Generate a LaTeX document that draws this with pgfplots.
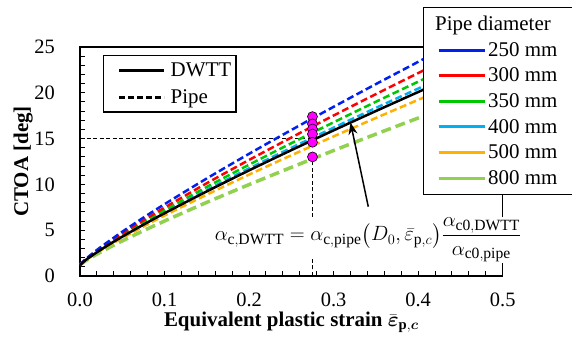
\documentclass[border=0pt]{standalone}
\usepackage{amsmath}
\usepackage{fontspec}
\setmainfont{Liberation Serif}
\usepackage{pgfplots}
\pgfplotsset{compat=1.18}
\usetikzlibrary{arrows.meta}
\definecolor{cblue}{RGB}{0,32,240}
\definecolor{cred}{RGB}{255,0,0}
\definecolor{cgreen}{RGB}{0,200,0}
\definecolor{ccyan}{RGB}{0,176,240}
\definecolor{corange}{RGB}{255,176,0}
\definecolor{clgreen}{RGB}{146,208,80}
\definecolor{cmag}{RGB}{255,0,255}
\begin{document}
\begin{tikzpicture}
\begin{axis}[
 at={(80bp,62bp)}, anchor=south west,
 scale only axis, width=422.7bp, height=229bp,
 xmin=0, xmax=0.5, ymin=0, ymax=25, clip=false,
 xtick={0,0.1,0.2,0.3,0.4,0.5}, ytick={0,5,10,15,20,25},
 minor x tick num=4, minor y tick num=4,
 tick align=inside, tick pos=left,
 major tick length=5bp, minor tick length=5bp,
 every tick/.style={black, line width=1bp},
 axis line style={line width=1.5bp},
 /pgf/number format/assume math mode=true,
 xticklabel style={/pgf/number format/fixed, /pgf/number format/fixed zerofill, /pgf/number format/precision=1},
 tick label style={font=\fontsize{20.5}{22}\selectfont},
 xticklabel style={anchor=north, inner sep=0pt, yshift=-17bp},
 yticklabel style={anchor=east, inner sep=0pt, xshift=-25bp},
 xlabel={Equivalent plastic strain $\bar{\boldsymbol{\varepsilon}}_{\mathbf{p},\boldsymbol{c}}$},
 ylabel={CTOA [deg]},
 label style={font=\fontsize{21}{24}\selectfont\bfseries},
 xlabel style={at={(axis description cs:0.5,-0.2214)}, anchor=base},
 ylabel style={at={(axis description cs:-0.123,0.5)}, anchor=base},
 legend style={at={(axis cs:0.0273,24.13)}, anchor=north west, draw=black, line width=1.2bp, fill=white,
   font=\fontsize{21}{24}\selectfont, inner xsep=14bp, inner ysep=5bp, row sep=8bp, column sep=3bp},
 legend cell align=left,
 legend image code/.code={\draw[#1, line width=3bp] (0bp,0bp) -- (45bp,0bp);},
]
\addlegendimage{black}\addlegendentry{DWTT\hspace*{-11bp}}
\addlegendimage{black, dash pattern=on 6bp off 3bp}\addlegendentry{Pipe}
% guide lines
\addplot[black, line width=1bp, dash pattern=on 4bp off 2.5bp, forget plot] coordinates {(0,15) (0.275,15)};
\addplot[black, line width=1bp, dash pattern=on 4bp off 2.5bp, forget plot] coordinates {(0.275,0) (0.275,12.9)};
% pipe curves
\addplot[clgreen, line width=3.5bp, dash pattern=on 10bp off 5bp, smooth, forget plot] coordinates {
(0,1.2) (0.005,1.55) (0.01,1.85) (0.02,2.38) (0.035,3.13) (0.05,3.83) (0.075,4.94) (0.1,6.00) (0.15,8.04) (0.2,9.98) (0.25,11.86) (0.3,13.70) (0.35,15.49) (0.405,17.42) (0.42,17.95)};
\addplot[corange, line width=2.5bp, dash pattern=on 7bp off 3.5bp, smooth, forget plot] coordinates {
(0,1.2) (0.005,1.60) (0.01,1.93) (0.02,2.53) (0.035,3.37) (0.05,4.15) (0.075,5.40) (0.1,6.60) (0.15,8.88) (0.2,11.07) (0.25,13.18) (0.3,15.24) (0.35,17.25) (0.405,19.43) (0.42,20.01)};
\addplot[ccyan, line width=2.5bp, dash pattern=on 7bp off 3.5bp, smooth, forget plot] coordinates {
(0,1.2) (0.005,1.63) (0.01,1.98) (0.02,2.62) (0.035,3.51) (0.05,4.35) (0.075,5.69) (0.1,6.97) (0.15,9.40) (0.2,11.74) (0.25,13.99) (0.3,16.19) (0.35,18.35) (0.405,20.67) (0.42,21.29)};
\addplot[cgreen, line width=2.5bp, dash pattern=on 7bp off 3.5bp, smooth, forget plot] coordinates {
(0,1.2) (0.005,1.64) (0.01,2.01) (0.02,2.68) (0.035,3.60) (0.05,4.48) (0.075,5.86) (0.1,7.19) (0.15,9.73) (0.2,12.15) (0.25,14.50) (0.3,16.78) (0.35,19.02) (0.405,21.43) (0.42,22.08)};
\addplot[cred, line width=2.5bp, dash pattern=on 7bp off 3.5bp, smooth, forget plot] coordinates {
(0,1.2) (0.005,1.66) (0.01,2.05) (0.02,2.75) (0.035,3.72) (0.05,4.63) (0.075,6.08) (0.1,7.47) (0.15,10.13) (0.2,12.67) (0.25,15.12) (0.3,17.52) (0.35,19.86) (0.405,22.38) (0.42,23.07)};
\addplot[cblue, line width=2.5bp, dash pattern=on 7bp off 3.5bp, smooth, forget plot] coordinates {
(0,1.2) (0.005,1.69) (0.01,2.10) (0.02,2.84) (0.035,3.86) (0.05,4.83) (0.075,6.37) (0.1,7.84) (0.15,10.65) (0.2,13.34) (0.25,15.94) (0.3,18.47) (0.35,20.95) (0.405,23.62) (0.42,24.35)};
% DWTT
\addplot[black, line width=2.5bp, smooth, forget plot] coordinates {
(0,1.2) (0.005,1.62) (0.01,1.96) (0.02,2.59) (0.035,3.47) (0.05,4.29) (0.075,5.60) (0.1,6.85) (0.15,9.24) (0.2,11.53) (0.25,13.74) (0.3,15.90) (0.35,18.01) (0.405,20.29) (0.42,20.90)};
% equation
\node[fill=white, inner sep=1bp, font=\fontsize{22.4}{25}\selectfont] at (axis cs:0.3406,3.95)
 {$\displaystyle \alpha_{\mathrm{c,DWTT}} = \alpha_{\mathrm{c,pipe}}\bigl(D_0,\bar{\varepsilon}_{\mathrm{p},c}\bigr)\frac{\alpha_{\mathrm{c0,DWTT}}}{\alpha_{\mathrm{c0,pipe}}}$};
\addplot[black, line width=1bp, dash pattern=on 4bp off 2.5bp, forget plot] coordinates {(0.275,0) (0.275,1.9)};
\draw[black, line width=1.5bp, -{Stealth[length=12bp, width=9bp]}] (axis cs:0.341,7.57) -- (axis cs:0.32,16.75);
% markers
\addplot[only marks, mark=*, mark size=5bp, mark options={fill=cmag, draw=black, line width=0.6bp}, forget plot] coordinates {
(0.275,17.4) (0.275,16.6) (0.275,16.05) (0.275,15.5) (0.275,14.6) (0.275,13.0)};
\end{axis}
\begin{axis}[
 at={(80bp,62bp)}, anchor=south west,
 scale only axis, width=422.7bp, height=229bp,
 xmin=0, xmax=0.5, ymin=0, ymax=25, hide axis,
 legend style={at={(axis cs:0.4052,29.4)}, anchor=north west, draw=black, line width=1.2bp, fill=white,
   font=\fontsize{21}{24}\selectfont, inner xsep=14bp, inner ysep=7bp, row sep=6.2bp, column sep=0bp},
 legend cell align=left,
 legend image code/.code={\draw[#1, line width=3bp] (0bp,0bp) -- (46bp,0bp);},
]
\addlegendimage{empty legend}\addlegendentry{\hspace*{-53bp}Pipe diameter\rule[-16bp]{0pt}{1bp}}
\addlegendimage{cblue}\addlegendentry{250 mm\hspace*{25bp}}
\addlegendimage{cred}\addlegendentry{300 mm}
\addlegendimage{cgreen}\addlegendentry{350 mm}
\addlegendimage{ccyan}\addlegendentry{400 mm}
\addlegendimage{corange}\addlegendentry{500 mm}
\addlegendimage{clgreen}\addlegendentry{800 mm}
\end{axis}
\pgfresetboundingbox
\path[use as bounding box] (0,0) rectangle (572bp,338bp);
\end{tikzpicture}
\end{document}
